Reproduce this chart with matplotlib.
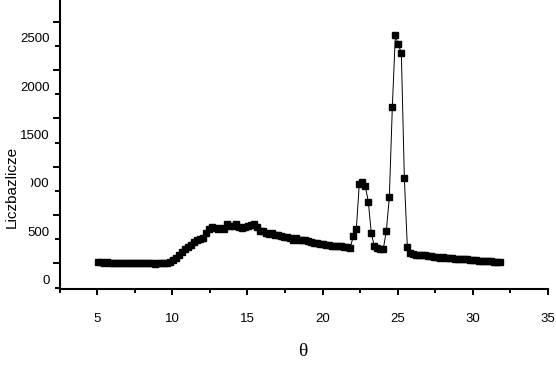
import numpy as np
import matplotlib
matplotlib.use("Agg")
import matplotlib.pyplot as plt
import matplotlib.patches as patches
from matplotlib.transforms import ScaledTranslation
from matplotlib.ticker import MultipleLocator, FixedLocator

# diffraction scan, 0.2 deg steps
theta = np.round(np.arange(5.05, 31.9, 0.2), 2)
counts = [
    182, 176, 172, 175, 170, 168, 170, 167, 166, 168,
    165, 166, 164, 166, 165, 167, 164, 165, 166, 163,
    165, 166, 168, 172, 182, 198, 222, 248, 285, 315,
    338, 360, 385, 405, 420, 428, 475, 520, 540, 532,
    525, 530, 520, 568, 548, 555, 570, 545, 530, 540,
    555, 565, 572, 540, 505, 495, 480, 470, 478, 462,
    455, 448, 435, 440, 425, 410, 430, 408, 402, 410,
    395, 385, 378, 372, 365, 362, 358, 352, 345, 348,
    340, 345, 338, 335, 328, 448, 518, 990, 1010, 966,
    800, 476, 342, 321, 318, 317, 500, 852, 1784, 2526,
    2433, 2340, 1046, 331, 269, 258, 252, 255, 250, 248,
    245, 240, 235, 232, 225, 228, 225, 222, 218, 215,
    215, 210, 206, 205, 202, 198, 196, 194, 193, 190,
    188, 186, 184, 180, 178,
]

y_labels = [0, 500, 1000, 1500, 2000, 2500]
x_ticks = [5, 10, 15, 20, 25, 30, 35]
# the exported y ticks sit a bit above their labels
TICK_SHIFT = 165

plt.rcParams['font.family'] = ['Liberation Sans', 'DejaVu Sans']

fig = plt.figure(figsize=(5.56, 3.65), dpi=100)
ax = fig.add_axes([0.1076, 0.2074, 0.8775, 0.7926])

ax.plot(theta, counts, color="black", linewidth=0.7, marker="s",
        markersize=4.8, markerfacecolor="black", markeredgecolor="black")

ax.set_xlim(2.5, 35)
ax.set_ylim(-103.5, 2891)

for side in ["top", "right"]:
    ax.spines[side].set_visible(False)
for side in ["left", "bottom"]:
    ax.spines[side].set_linewidth(1.5)

ax.set_xticks(x_ticks)
ax.xaxis.set_minor_locator(MultipleLocator(5, offset=2.5))
ax.set_yticks([v + TICK_SHIFT for v in y_labels])
ax.set_yticklabels([str(v) for v in y_labels])
ax.yaxis.set_minor_locator(FixedLocator([v + TICK_SHIFT - 250 for v in y_labels]))

ax.tick_params(axis="x", which="major", direction="out", length=4.3, width=1.4,
               pad=13, labelsize=9.5)
ax.tick_params(axis="x", which="minor", direction="out", length=2.9, width=1.4)
ax.tick_params(axis="y", which="major", direction="out", length=5.4, width=1.4,
               pad=2, labelsize=9.5)
ax.tick_params(axis="y", which="minor", direction="out", length=3.6, width=1.4)

shift = ScaledTranslation(0, -0.16, fig.dpi_scale_trans)
for lab in ax.get_yticklabels():
    lab.set_transform(lab.get_transform() + shift)

# y title box hides the start of the 1000 label, as in the original
cover = patches.Rectangle((18 / 556, 1 - 200 / 365), 13 / 556, 30 / 365,
                          transform=fig.transFigure, facecolor="white",
                          edgecolor="none", zorder=1)
fig.patches.append(cover)

fig.text(12 / 556, 1 - 187 / 365, "Liczbazlicze", rotation=90, ha="center",
         va="center", fontsize=11, fontstretch="condensed", zorder=4)
fig.text(303 / 556, 1 - 352 / 365, "θ", ha="center", va="center", fontsize=14,
         family=["Liberation Serif", "DejaVu Serif"])

fig.savefig("out.png", dpi=100)
